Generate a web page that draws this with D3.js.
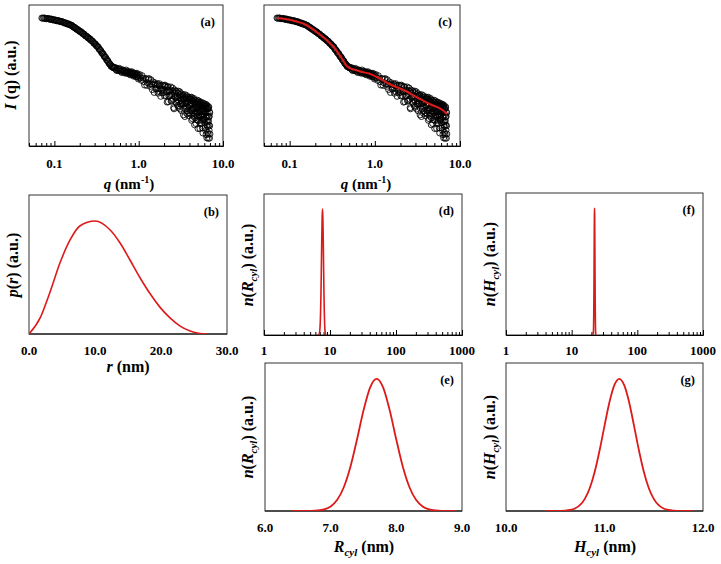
<!DOCTYPE html>
<html><head><meta charset="utf-8">
<script src="https://cdn.jsdelivr.net/npm/d3@7"></script>
<style>
body{margin:0;background:#fff}
svg{display:block}
text{font-family:"Liberation Serif","Times New Roman",serif;font-weight:bold;fill:#000}
</style>
</head><body>
<svg id="chart" width="721" height="564"></svg>
<script>
// ---------------- DATA ----------------
// SAXS curve: q (nm^-1) and log10 I(q) (a.u.)
const qData = [0.071,0.075,0.079,0.083,0.087,0.091,0.095,0.10,0.105,0.11,0.115,0.12,0.126,0.132,0.138,0.144,0.15,0.157,0.164,0.171,0.178,0.186,0.194,0.202,0.21,0.219,0.228,0.237,0.246,0.256,0.266,0.276,0.287,0.298,0.309,0.32,0.332,0.344,0.356,0.368,0.381,0.394,0.407,0.42,0.434,0.448,0.462,0.477,0.492,0.507,
0.52,0.54,0.56,0.58,0.60,0.62,0.64,0.66,0.68,0.70,0.72,0.74,0.76,0.78,0.80,0.82,0.84,0.86,0.88,0.90,0.92,0.94,0.96,0.98,1.00,
1.05,1.10,1.15,1.20,1.25,1.30,1.35,1.40,1.45,1.50,1.55,1.60,1.65,1.70,1.75,1.80,1.85,1.90,1.95,2.00,
2.05,2.10,2.15,2.20,2.25,2.30,2.35,2.40,2.45,2.50,2.55,2.60,2.65,2.70,2.75,2.80,2.85,2.90,2.95,3.00,
3.05,3.10,3.15,3.20,3.25,3.30,3.35,3.40,3.45,3.50,3.55,3.60,3.65,3.70,3.75,3.80,3.85,3.90,3.95,4.00,
4.05,4.10,4.15,4.20,4.25,4.30,4.35,4.40,4.45,4.50,4.55,4.60,4.65,4.70,4.75,4.80,4.85,4.90,4.95,5.00,
5.05,5.10,5.15,5.20,5.25,5.30,5.35,5.40,5.45,5.50,5.55,5.60,5.65,5.70,5.75,5.80,5.85,5.90,5.95,6.00,
6.05,6.10,6.15,6.20,6.25,6.30,6.35,6.40,6.45,6.50,6.55,6.60,6.65,6.70,6.75,6.80,6.85,6.90,6.95,7.00];
const logIData = [-0.325,-0.322,-0.341,-0.338,-0.352,-0.350,-0.369,-0.372,-0.389,-0.392,-0.401,-0.418,-0.424,-0.449,-0.455,-0.476,-0.482,-0.503,-0.524,-0.559,-0.577,-0.611,-0.632,-0.664,-0.681,-0.719,-0.741,-0.779,-0.796,-0.836,-0.852,-0.893,-0.918,-0.964,-0.986,-1.032,-1.055,-1.118,-1.146,-1.203,-1.232,-1.294,-1.318,-1.379,-1.408,-1.466,-1.495,-1.541,-1.545,-1.575,
-1.571,-1.618,-1.592,-1.640,-1.611,-1.652,-1.628,-1.675,-1.648,-1.690,-1.661,-1.705,-1.672,-1.720,-1.684,-1.731,-1.695,-1.744,-1.708,-1.770,-1.725,-1.789,-1.741,-1.812,-1.756,
-1.822,-1.768,-1.915,-1.838,-2.010,-1.855,-1.975,-1.870,-2.115,-1.980,-1.943,-2.105,-1.993,-2.205,-1.965,-2.103,-2.013,-2.198,-2.108,-2.018,
-2.003,-2.263,-2.173,-2.058,-2.418,-2.130,-2.265,-2.050,-2.385,-2.220,-2.155,-2.565,-2.125,-2.308,-2.418,-2.175,-2.285,-2.518,-2.153,-2.410,
-2.243,-2.600,-2.310,-2.218,-2.475,-2.408,-2.265,-2.748,-2.330,-2.460,-2.243,-2.600,-2.433,-2.338,-2.720,-2.300,-2.558,-2.415,-2.695,-2.353,
-2.308,-2.640,-2.495,-2.350,-2.883,-2.463,-2.618,-2.400,-2.780,-2.335,-2.590,-2.995,-2.450,-2.730,-2.385,-2.590,-2.870,-2.500,-2.705,-2.433,
-3.088,-2.568,-2.398,-2.803,-2.680,-2.485,-2.965,-2.520,-2.773,-2.453,-2.883,-2.660,-2.490,-3.070,-2.598,-2.753,-2.455,-2.885,-2.663,-2.543,
-2.845,-2.500,-3.078,-2.683,-2.535,-3.240,-2.793,-2.495,-3.000,-2.680,-3.185,-2.593,-2.925,-3.333,-2.565,-2.798,-3.130,-2.663,-3.020,-3.225];
// second set of measured points (interleaved q values)
const qData2 = [0.073,0.077,0.081,0.085,0.089,0.093,0.0975,0.1025,0.1075,0.1125,0.1175,0.123,0.129,0.135,0.141,0.147,0.1535,0.1605,0.1675,0.1745,0.182,0.19,0.198,0.206,0.2145,0.2235,0.2325,0.2415,0.251,0.261,0.271,0.2815,0.2925,0.3035,0.3145,0.326,0.338,0.35,0.362,0.3745,0.3875,0.4005,0.4135,0.427,0.441,0.455,0.4695,0.4845,0.4995,0.5135,
0.53,0.55,0.57,0.59,0.61,0.63,0.65,0.67,0.69,0.71,0.73,0.75,0.77,0.79,0.81,0.83,0.85,0.87,0.89,0.91,0.93,0.95,0.97,0.99,
1.025,1.075,1.125,1.175,1.225,1.275,1.325,1.375,1.425,1.475,1.525,1.575,1.625,1.675,1.725,1.775,1.825,1.875,1.925,1.975,
2.025,2.075,2.125,2.175,2.225,2.275,2.325,2.375,2.425,2.475,2.525,2.575,2.625,2.675,2.725,2.775,2.825,2.875,2.925,2.975,
3.025,3.075,3.125,3.175,3.225,3.275,3.325,3.375,3.425,3.475,3.525,3.575,3.625,3.675,3.725,3.775,3.825,3.875,3.925,3.975,
4.025,4.075,4.125,4.175,4.225,4.275,4.325,4.375,4.425,4.475,4.525,4.575,4.625,4.675,4.725,4.775,4.825,4.875,4.925,4.975,
5.025,5.075,5.125,5.175,5.225,5.275,5.325,5.375,5.425,5.475,5.525,5.575,5.625,5.675,5.725,5.775,5.825,5.875,5.925,5.975,
6.025,6.075,6.125,6.175,6.225,6.275,6.325,6.375,6.425,6.475,6.525,6.575,6.625,6.675,6.725,6.775,6.825,6.875,6.925,6.975];
const logIData2 = [-0.335,-0.328,-0.344,-0.336,-0.359,-0.354,-0.377,-0.373,-0.398,-0.394,-0.416,-0.413,-0.444,-0.445,-0.473,-0.472,-0.500,-0.508,-0.549,-0.561,-0.602,-0.615,-0.656,-0.666,-0.709,-0.724,-0.769,-0.781,-0.824,-0.838,-0.882,-0.899,-0.951,-0.968,-1.019,-1.037,-1.096,-1.125,-1.185,-1.210,-1.272,-1.299,-1.359,-1.387,-1.448,-1.473,-1.529,-1.536,-1.569,-1.568,
-1.565,-1.640,-1.613,-1.584,-1.655,-1.689,-1.623,-1.658,-1.705,-1.625,-1.705,-1.685,-1.665,-1.745,-1.700,-1.668,-1.735,-1.780,-1.703,-1.738,-1.785,-1.706,-1.790,-1.849,
-1.738,-1.883,-1.829,-2.001,-1.849,-1.945,-1.840,-2.035,-1.980,-1.923,-2.186,-1.999,-2.086,-1.974,-2.160,-2.021,-2.283,-2.118,-2.003,-2.188,
-2.273,-2.033,-2.168,-2.428,-2.038,-2.274,-2.160,-2.120,-2.405,-2.265,-2.075,-2.360,-2.595,-2.204,-2.288,-2.146,-2.455,-2.364,-2.198,-2.556,
-2.314,-2.171,-2.480,-2.389,-2.646,-2.279,-2.461,-2.244,-2.576,-2.358,-2.789,-2.296,-2.454,-2.535,-2.266,-2.648,-2.429,-2.361,-2.768,-2.524,
-2.505,-2.336,-2.718,-2.473,-2.304,-2.635,-2.840,-2.396,-2.578,-2.708,-2.363,-2.543,-2.823,-2.453,-2.658,-2.963,-2.418,-2.548,-2.778,-2.381,
-2.660,-2.890,-2.470,-2.750,-2.604,-2.433,-3.088,-2.668,-2.521,-2.800,-2.430,-2.959,-2.663,-2.518,-2.771,-3.200,-2.504,-2.858,-2.636,-2.740,
-2.519,-2.948,-2.701,-2.480,-3.134,-2.813,-2.591,-2.919,-3.323,-2.528,-2.783,-3.039,-2.596,-3.229,-2.886,-2.544,-3.001,-2.784,-3.330,-2.698];
// Model fit (panel c)
const fitQ = [0.071,0.089,0.12,0.157,0.207,0.272,0.329,0.399,0.47,0.538,0.6,0.707,0.857,1.0,1.12,1.48,2.17,3.09,4.41,6.47,7.0];
const fitLogI = [-0.325,-0.35,-0.4125,-0.5,-0.675,-0.875,-1.05,-1.3,-1.525,-1.6,-1.625,-1.675,-1.7125,-1.7775,-1.825,-1.975,-2.125,-2.3,-2.475,-2.65,-2.725];
// Pair distance distribution (panel b)
const rNm = [0,1.67,3.18,4.7,6.2,7.7,10.0,12.3,13.8,15.3,16.8,18.3,19.8,21.4,22.9,24.4,25.9,27.0];
const pR  = [0,0.14,0.37,0.63,0.83,0.956,1.0,0.92,0.805,0.655,0.50,0.36,0.24,0.14,0.07,0.027,0.005,0];
// Radius distribution (panels d, e)
const rCyl = [6.4,6.5,6.6,6.7,6.8,6.9,7.0,7.1,7.2,7.3,7.4,7.5,7.6,7.7,7.8,7.9,8.0,8.1,8.2,8.3,8.4,8.5,8.6,8.7,8.8,8.9];
const nR   = [0,0.00005,0.00025,0.00105,0.0038,0.0124,0.0347,0.0846,0.180,0.333,0.539,0.760,0.934,1.0,0.934,0.760,0.539,0.333,0.180,0.0846,0.0347,0.0124,0.0038,0.00105,0.00025,0.00005];
// Height distribution (panel g) and full-length axis used in panel f
const hCyl = [10.40,10.45,10.50,10.55,10.60,10.65,10.70,10.75,10.80,10.85,10.90,10.95,11.00,11.05,11.10,11.15,11.20,11.25,11.30,11.35,11.40,11.45,11.50,11.55,11.60,11.65,11.70,11.75,11.80,11.85,11.90];
const hCylF = [20.8,20.9,21.0,21.1,21.2,21.3,21.4,21.5,21.6,21.7,21.8,21.9,22.0,22.1,22.2,22.3,22.4,22.5,22.6,22.7,22.8,22.9,23.0,23.1,23.2,23.3,23.4,23.5,23.6,23.7,23.8];
const nH   = [0.00002,0.00007,0.00026,0.00088,0.0027,0.0076,0.019,0.044,0.092,0.172,0.295,0.458,0.644,0.823,0.952,1.0,0.952,0.823,0.644,0.458,0.295,0.172,0.092,0.044,0.019,0.0076,0.0027,0.00088,0.00026,0.00007,0.00002];
// Tick labels
const qTicks = [0.1,1,10], qTickLabels = ["0.1","1.0","10.0"];
const rTicks = [0,10,20,30], rTickLabels = ["0.0","10.0","20.0","30.0"];
const logTicks = [1,10,100,1000], logTickLabels = ["1","10","100","1000"];
const rcTicks = [6,7,8,9], rcTickLabels = ["6.0","7.0","8.0","9.0"];
const hcTicks = [10,11,12], hcTickLabels = ["10.0","11.0","12.0"];

// ---------------- DRAW ----------------
const svg = d3.select("#chart");
const RED = "#dd1a1a";

function logMinor(domain){
  const out=[];
  for(let e=Math.floor(Math.log10(domain[0]));e<=Math.ceil(Math.log10(domain[1]));e++){
    for(let k=2;k<=9;k++){const v=k*Math.pow(10,e); if(v>domain[0]&&v<domain[1]) out.push(v);}
  }
  return out;
}

function panel(o){
  const g = svg.append("g");
  const x = (o.log ? d3.scaleLog() : d3.scaleLinear()).domain(o.xd).range([o.x0,o.x1]);
  const y = d3.scaleLinear().domain(o.yd).range([o.y1,o.y0]);
  const id = "clip"+o.name;
  svg.append("clipPath").attr("id",id).append("rect")
     .attr("x",o.x0).attr("y",o.y0).attr("width",o.x1-o.x0).attr("height",o.y1-o.y0);
  g.append("rect").attr("x",o.x0).attr("y",o.y0).attr("width",o.x1-o.x0).attr("height",o.y1-o.y0)
    .attr("fill","none").attr("stroke","#333").attr("stroke-width",1);
  if(o.log){
    const ax = d3.axisBottom(x).tickValues(logMinor(o.xd)).tickSize(-3).tickFormat("");
    g.append("g").attr("transform",`translate(0,${o.y1})`).call(ax)
      .call(s=>{s.select(".domain").attr("stroke","#000");s.selectAll("line").attr("stroke","#000");});
    const ax2 = d3.axisBottom(x).tickValues(o.ticks).tickSize(-5).tickFormat("");
    g.append("g").attr("transform",`translate(0,${o.y1})`).call(ax2)
      .call(s=>{s.select(".domain").remove();s.selectAll("line").attr("stroke","#000");});
  } else {
    g.append("line").attr("x1",o.x0).attr("x2",o.x1).attr("y1",o.y1).attr("y2",o.y1).attr("stroke","#000");
  }
  g.selectAll(".tl").data(o.ticks).enter().append("text")
    .attr("x",(d)=>x(d)).attr("y",o.labelY).attr("text-anchor","middle")
    .style("font-size","13px").text((d,i)=>o.tickLabels[i]);
  g.append("text").attr("x",o.x1-8).attr("y",o.y0+21).attr("text-anchor","end")
    .style("font-size","12.5px").text(o.letter);
  const plot = svg.append("g").attr("clip-path",`url(#${id})`);
  return {x,y,g,plot};
}

function richText(parent, x, y, parts, size, rotate){
  const t = parent.append("text").attr("text-anchor","middle").style("font-size",size+"px");
  if(rotate) t.attr("transform",`translate(${x},${y}) rotate(-90)`);
  else t.attr("x",x).attr("y",y);
  parts.forEach(p=>{
    const ts = t.append("tspan").text(p.t);
    if(p.i) ts.style("font-style","italic");
    if(p.dy) ts.attr("dy",p.dy);
    if(p.fs) ts.style("font-size",p.fs+"px");
  });
  return t;
}

const qDomain = [0.05,10];
const lgDomain = [-3.525,0];
const pts = qData.map((q,i)=>({q, v:logIData[i]})).concat(qData2.map((q,i)=>({q, v:logIData2[i]})));
const fit = fitQ.map((q,i)=>({q, v:fitLogI[i]}));

function scatter(P){
  P.plot.selectAll("circle").data(pts).enter().append("circle")
    .attr("cx",d=>P.x(d.q)).attr("cy",d=>P.y(d.v)).attr("r",3)
    .attr("fill","none").attr("stroke","#000").attr("stroke-width",0.85);
}

// (a)
const A = panel({name:"a",log:true,xd:qDomain,yd:lgDomain,x0:29,x1:223,y0:5,y1:146,
  ticks:qTicks,tickLabels:qTickLabels,labelY:168,letter:"(a)"});
scatter(A);

// (c)
const C = panel({name:"c",log:true,xd:qDomain,yd:lgDomain,x0:264,x1:460,y0:5,y1:146,
  ticks:qTicks,tickLabels:qTickLabels,labelY:168,letter:"(c)"});
scatter(C);
C.plot.append("path").datum(fit)
  .attr("d",d3.line().x(d=>C.x(d.q)).y(d=>C.y(d.v)).curve(d3.curveMonotoneX))
  .attr("fill","none").attr("stroke",RED).attr("stroke-width",2);

// (b)
const B = panel({name:"b",log:false,xd:[0,30],yd:[0,1.23],x0:29,x1:227,y0:195,y1:334,
  ticks:rTicks,tickLabels:rTickLabels,labelY:355,letter:"(b)"});
B.plot.append("path").datum(rNm.map((r,i)=>({x:r,y:pR[i]})))
  .attr("d",d3.line().x(d=>B.x(d.x)).y(d=>B.y(d.y)).curve(d3.curveMonotoneX))
  .attr("fill","none").attr("stroke",RED).attr("stroke-width",1.6);

// (d)
const D = panel({name:"d",log:true,xd:[1,1000],yd:[0,1.12],x0:264,x1:462,y0:194,y1:335,
  ticks:logTicks,tickLabels:logTickLabels,labelY:355,letter:"(d)"});
D.plot.append("path").datum(rCyl.map((r,i)=>({x:r,y:nR[i]})))
  .attr("d",d3.line().x(d=>D.x(d.x)).y(d=>D.y(d.y)).curve(d3.curveMonotoneX))
  .attr("fill","none").attr("stroke",RED).attr("stroke-width",1.6);

// (f)
const F = panel({name:"f",log:true,xd:[1,1000],yd:[0,1.12],x0:506,x1:703,y0:193,y1:335,
  ticks:logTicks,tickLabels:logTickLabels,labelY:355,letter:"(f)"});
F.plot.append("path").datum(hCylF.map((h,i)=>({x:h,y:nH[i]})))
  .attr("d",d3.line().x(d=>F.x(d.x)).y(d=>F.y(d.y)).curve(d3.curveMonotoneX))
  .attr("fill","none").attr("stroke",RED).attr("stroke-width",1.6);

// (e)
const E = panel({name:"e",log:false,xd:[6,9],yd:[0,1.12],x0:265,x1:462,y0:363,y1:511,
  ticks:rcTicks,tickLabels:rcTickLabels,labelY:532,letter:"(e)"});
E.plot.append("path").datum(rCyl.map((r,i)=>({x:r,y:nR[i]})))
  .attr("d",d3.line().x(d=>E.x(d.x)).y(d=>E.y(d.y)).curve(d3.curveMonotoneX))
  .attr("fill","none").attr("stroke",RED).attr("stroke-width",1.8);

// (g)
const G = panel({name:"g",log:false,xd:[10,12],yd:[0,1.12],x0:506,x1:703,y0:363,y1:511,
  ticks:hcTicks,tickLabels:hcTickLabels,labelY:532,letter:"(g)"});
G.plot.append("path").datum(hCyl.map((h,i)=>({x:h,y:nH[i]})))
  .attr("d",d3.line().x(d=>G.x(d.x)).y(d=>G.y(d.y)).curve(d3.curveMonotoneX))
  .attr("fill","none").attr("stroke",RED).attr("stroke-width",1.8);

// axis titles
const qTitle = [{t:"q",i:true},{t:"  (nm"},{t:"-1",fs:10,dy:-6},{t:")",dy:6}];
richText(svg,129,189,qTitle,15,false);
richText(svg,366,189,qTitle,15,false);
richText(svg,128,372,[{t:"r",i:true},{t:" (nm)"}],16,false);
richText(svg,364,552,[{t:"R",i:true},{t:"cyl",i:true,fs:11,dy:4},{t:" (nm)",dy:-4}],16,false);
richText(svg,605,552,[{t:"H",i:true},{t:"cyl",i:true,fs:11,dy:4},{t:" (nm)",dy:-4}],16,false);
richText(svg,16,75,[{t:"I",i:true},{t:" (q)  (a.u.)"}],16,true);
richText(svg,18,265,[{t:"p",i:true},{t:"("},{t:"r",i:true},{t:") (a.u.)"}],16,true);
const nR_t = [{t:"n",i:true},{t:"("},{t:"R",i:true},{t:"cyl",i:true,fs:11,dy:4},{t:")",dy:-4},{t:"  (a.u.)"}];
const nH_t = [{t:"n",i:true},{t:"("},{t:"H",i:true},{t:"cyl",i:true,fs:11,dy:4},{t:")",dy:-4},{t:"  (a.u.)"}];
richText(svg,253,265,nR_t,16,true);
richText(svg,253,437,nR_t,16,true);
richText(svg,495,264,nH_t,16,true);
richText(svg,495,437,nH_t,16,true);
</script>
</body></html>
